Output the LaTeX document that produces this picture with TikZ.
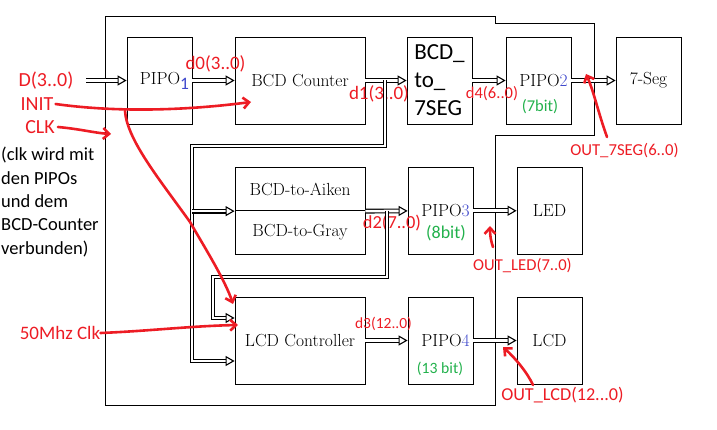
\documentclass[tikz,border=0pt]{standalone}
\usepackage{fontspec}
\newfontfamily\handfont{Carlito}
\usetikzlibrary{arrows.meta}
\definecolor{penred}{RGB}{237,28,36}
\definecolor{digblue}{RGB}{63,72,204}
\definecolor{bitgreen}{RGB}{34,177,76}
\tikzset{
  block/.style={draw, line width=0.8pt, minimum width=65pt, minimum height=87pt,
    inner sep=0pt, font=\fontsize{17.5}{21}\selectfont},
  wideblock/.style={block, minimum width=130pt},
  bus/.style={double, double distance=2.6pt, line width=1.1pt,
    -{Triangle[open, length=9pt, width=10pt]}},
  pen/.style={draw=penred, line width=2.6pt, line cap=round, line join=round,
    -{Straight Barb[length=6pt, width=11pt]}},
  note/.style={text=penred, font=\handfont\fontsize{#1}{#1}\selectfont, inner sep=0pt},
  bits/.style={text=bitgreen, font=\handfont\fontsize{#1}{#1}\selectfont, inner sep=0pt},
}
\newcommand{\pipo}[1]{\hspace*{10pt}PIPO{\color{digblue}#1}}
\begin{document}
\begin{tikzpicture}[x=1pt, y=-1pt]
\useasboundingbox (0,0) rectangle (717,430);

% outer frame
\draw[line width=0.8pt] (105,16) -- (495,16) -- (495,23) -- (594,23) -- (594,135)
  -- (495,135) -- (495,405) -- (105,405) -- cycle;

% blocks
\node[block] (p1) at (159.5,80.5) {\hspace*{10pt}PIPO\raisebox{-5pt}{\handfont\color{digblue}1}};
\node[wideblock] (cnt) at (300,80.5) {BCD Counter};
\node[block, align=left, font=\handfont\fontsize{23}{28}\selectfont] (b7) at (439.5,80.5) {BCD\_\\to\_\\7SEG};
\node[block] (p2) at (538.5,80.5) {\pipo{2}};
\node[block] (seg) at (648.5,80.5) {7-Seg};
\node[wideblock, minimum height=43.5pt] (aik) at (300,189) {BCD-to-Aiken};
\node[wideblock, minimum height=43.5pt] (gry) at (300,232.5) {BCD-to-Gray};
\node[block] (p3) at (440.5,210.75) {\pipo{3}};
\node[block] (led) at (549.5,210.75) {LED};
\node[wideblock] (ctl) at (300,340.5) {LCD Controller};
\node[block] (p4) at (440.5,340.5) {\pipo{4}};
\node[block] (lcd) at (549.5,340.5) {LCD};

% bit widths
\node[bits=16.5] (w2) at (540,107) {(7bit)};
\node[bits=18] (w3) at (446,233) {(8bit)};
\node[bits=15.7] (w4) at (440,369) {(13 bit)};

% red notes
\node[note=20] (dlab) at (46,81) {D(3..0)};
\node[note=20] (init) at (37,104) {INIT};
\node[note=20] (clk) at (40,127) {CLK};
\node[anchor=west, align=left, inner sep=0pt, font=\handfont\fontsize{18.5}{23.3}\selectfont]
  (clkinfo) at (1,202) {(clk wird mit\\den PIPOs\\und dem\\BCD-Counter\\verbunden)};
\node[note=19] (mhz) at (60,333) {50Mhz Clk};
\node[note=19] (d0) at (215.5,64) {d0(3..0)};
\node[note=19] (d1) at (379,94) {d1(3..0)};
\node[note=16.5] (d4) at (492,94) {d4(6..0)};
\node[note=18.4] (d2) at (392,223) {d2(7..0)};
\node[note=15.5] (d3) at (383.5,324) {d3(12..0)};
\node[note=16.7] (o7) at (624.5,151) {OUT\_7SEG(6..0)};
\node[note=16.6] (oled) at (522.5,266) {OUT\_LED(7..0)};
\node[note=18.2] (olcd) at (562.5,395) {OUT\_LCD(12...0)};

% buses
\coordinate (din) at (86,80.5);
\draw[bus] (din) -- (p1);
\draw[bus] (p1) -- (cnt);
\draw[bus] (cnt) -- (b7);
\draw[bus] (b7) -- (p2);
\draw[bus] (p2) -- (seg);
\draw[bus] (aik.south east) -- (p3);
\draw[bus] (p3) -- (led);
\draw[bus] (ctl) -- (p4);
\draw[bus] (p4) -- (lcd);

% branches to the converters and the LCD controller
\coordinate (j1) at (385,80.5);
\coordinate (k1) at (192,146);
\draw[bus] (j1) |- (k1) |- ([yshift=-20.5pt]ctl.west);
\draw[bus] (k1 |- aik.south west) -- (aik.south west);
\coordinate (j2) at (387,210.75);
\coordinate (k2) at (213,277);
\draw[bus] (j2) |- (k2) |- ([yshift=22.5pt]ctl.west);

% hand drawn arrows
\coordinate (initE) at (251,102);
\draw[pen] ([xshift=2pt]init.east) .. controls (120,113) and (190,110) .. (initE);
\coordinate (initB) at (125,111);
\coordinate (initL) at (233,304);
\draw[pen] (initB) .. controls (127,140) and (160,180) .. (190,222)
  .. controls (205,248) and (225,280) .. (initL);
\coordinate (clkE) at (111,134);
\draw[pen] ([xshift=3pt]clk.east) .. controls (80,129) and (95,133) .. (clkE);
\coordinate (mhzE) at (238,325);
\draw[pen] (mhz.east) .. controls (150,331) and (190,326) .. (mhzE);
\coordinate (o7S) at (607,137);
\coordinate (o7E) at (586,74);
\draw[pen] (o7S) .. controls (598,112) and (594,92) .. (o7E);
\coordinate (oledS) at (493,247);
\coordinate (oledE) at (490,226);
\draw[pen] (oledS) .. controls (490,238) and (490,232) .. (oledE);
\coordinate (olcdS) at (533,385);
\coordinate (olcdE) at (503,347);
\draw[pen] (olcdS) .. controls (527,372) and (515,358) .. (olcdE);
\end{tikzpicture}
\end{document}
